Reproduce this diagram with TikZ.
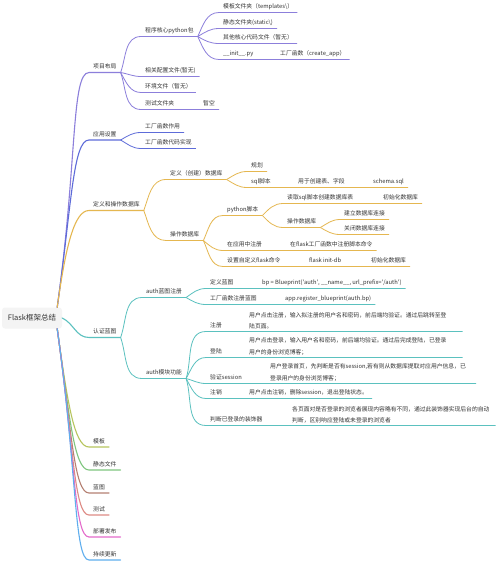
\documentclass[tikz,border=0pt]{standalone}
\usepackage{fontspec}
\setmainfont{Noto Sans CJK SC}
\usetikzlibrary{positioning}

\definecolor{cprj}{HTML}{8C7FDB}
\definecolor{capp}{HTML}{5E6CD9}
\definecolor{cdb}{HTML}{E5B750}
\definecolor{cauth}{HTML}{5BC1BF}
\definecolor{ctpl}{HTML}{B7C55E}
\definecolor{csta}{HTML}{7FC67F}
\definecolor{cbp}{HTML}{B58072}
\definecolor{ctst}{HTML}{DE8B85}
\definecolor{cdep}{HTML}{E46BCB}
\definecolor{cupd}{HTML}{5FAEEE}
\definecolor{txt}{HTML}{333333}

\newcommand{\mmtext}{\fontsize{5.8}{7}\selectfont}
\newcommand{\mmdesc}{\fontsize{5.8}{11.5}\selectfont}
\newcommand{\mmroot}{\fontsize{7.5}{9}\selectfont}

\begin{document}
\begin{tikzpicture}[x=1pt,y=1pt,
topic/.style={anchor=south west,inner xsep=4pt,inner ysep=2pt,text depth=1.5pt,text=txt,font=\mmtext},
desc/.style={anchor=south west,inner xsep=4pt,inner ysep=2pt,align=left,text=txt,font=\mmdesc},
root/.style={fill=gray!9,rounded corners=3pt,minimum width=60pt,minimum height=21pt,text=txt,font=\mmroot},
trunk/.style={line width=1.1pt,line cap=round},
twig/.style={line width=0.8pt}
]

\fill[white] (0,0) rectangle (500,-562);
\useasboundingbox (0,0) rectangle (500,-562);

\node (root) [root] at (32,-318) {Flask框架总结};

% main branches
\node (prj)  [topic] at (89,-72.5)  {项目布局};
\node (app)  [topic] at (89,-140)   {应用设置};
\node (db)   [topic] at (89,-210.5) {定义和操作数据库};
\node (auth) [topic] at (89,-337.5) {认证蓝图};
\node (tpl)  [topic] at (89,-447)   {模板};
\node (sta)  [topic] at (89,-470)   {静态文件};
\node (bp)   [topic] at (89,-493)   {蓝图};
\node (tst)  [topic] at (89,-515)   {测试};
\node (dep)  [topic] at (89,-537)   {部署发布};
\node (upd)  [topic] at (89,-560)   {持续更新};

% project layout
\node (pkg)   [topic] at (141,-36.5)  {程序核心python包};
\node (cfg)   [topic] at (141,-76.5)  {相关配置文件(暂无)};
\node (env)   [topic] at (141,-92.5)  {环境文件（暂无）};
\node (tdir)  [topic] at (141,-109.5) {测试文件夹};
\node (tdirx) [topic] at (199,-109.5) {暂空};
\node (tdr)   [topic] at (219,-12.5)  {模板文件夹（templates\textbackslash）};
\node (sdr)   [topic] at (219,-28.5)  {静态文件夹(static\textbackslash)};
\node (oth)   [topic] at (219,-43.5)  {其他核心代码文件（暂无）};
\node (ini)   [topic] at (219,-59.5)  {\_\_init\_\_.py};
\node (inix)  [topic] at (276,-59.5)  {工厂函数（create\_app）};

% app setup
\node (fac1) [topic] at (141,-132.5) {工厂函数作用};
\node (fac2) [topic] at (141,-148.5) {工厂函数代码实现};

% database
\node (def)   [topic] at (166,-179.5) {定义（创建）数据库};
\node (ops)   [topic] at (166,-240.5) {操作数据库};
\node (plan)  [topic] at (247,-171.5) {规划};
\node (sql)   [topic] at (247,-187.5) {sql脚本};
\node (sqlx)  [topic] at (294,-187.5) {用于创建表、字段};
\node (sqly)  [topic] at (369,-187.5) {schema.sql};
\node (py)    [topic] at (223,-215.5) {python脚本};
\node (reg)   [topic] at (223,-250.5) {在应用中注册};
\node (regx)  [topic] at (286,-250.5) {在flask工厂函数中注册脚本命令};
\node (cmd)   [topic] at (223,-266.5) {设置自定义flask命令};
\node (cmdx)  [topic] at (305,-266.5) {flask init-db};
\node (cmdy)  [topic] at (367,-266.5) {初始化数据库};
\node (read)  [topic] at (283,-203.5) {读取sql脚本创建数据库表};
\node (readx) [topic] at (379,-203.5) {初始化数据库};
\node (opsb)  [topic] at (283,-227.5) {操作数据库};
\node (conn)  [topic] at (340,-219.5) {建立数据库连接};
\node (clos)  [topic] at (340,-234.5) {关闭数据库连接};

% auth blueprint
\node (bpr)  [topic] at (142,-297.5) {auth蓝图注册};
\node (mod)  [topic] at (142,-378.5) {auth模块功能};
\node (bpd)  [topic] at (206,-288.5) {定义蓝图};
\node (bpdx) [topic] at (258,-288.5) {bp = Blueprint(\textquotesingle auth\textquotesingle, \_\_name\_\_, url\_prefix=\textquotesingle/auth\textquotesingle)};
\node (bpf)  [topic] at (206,-304.5) {工厂函数注册蓝图};
\node (bpfx) [topic] at (281,-304.5) {app.register\_blueprint(auth.bp)};
\node (sgn)  [topic] at (206,-331.5) {注册};
\node (sgnx) [desc]  at (245,-331.5) {用户点击注册，输入拟注册的用户名和密码，前后端均验证。通过后跳转至登\\陆页面。};
\node (lgn)  [topic] at (206,-357.5) {登陆};
\node (lgnx) [desc]  at (245,-357.5) {用户点击登录，输入用户名和密码，前后端均验证。通过后完成登陆，已登录\\用户的身份浏览博客；};
\node (ses)  [topic] at (206,-383.5) {验证session};
\node (sesx) [desc]  at (266,-383.5) {用户登录首页，先判断是否有session,若有则从数据库提取对应用户信息，已\\登录用户的身份浏览博客；};
\node (lgo)  [topic] at (206,-398.5) {注销};
\node (lgox) [topic] at (245,-398.5) {用户点击注销，删除session，退出登陆状态。};
\node (dco)  [topic] at (206,-425.5) {判断已登录的装饰器};
\node (dcox) [desc]  at (288,-425.5) {各页面对是否登录的浏览者展现内容略有不同，通过此装饰器实现后台的自动\\判断，区别响应登陆或未登录的浏览者};

% trunks from the root
\draw[trunk,cprj] ([xshift=-5pt]root.north east) to[out=82,in=180,out distance=145pt,in distance=18pt] (prj.south west) -- (prj.south east);
\draw[trunk,capp] ([xshift=-5pt]root.north east) to[out=82,in=180,out distance=104pt,in distance=16pt] (app.south west) -- (app.south east);
\draw[trunk,cdb] ([xshift=-5pt]root.north east) to[out=82,in=180,out distance=60pt,in distance=15pt] (db.south west) -- (db.south east);
\draw[trunk,cauth] (root.east) to[out=-25,in=180] (auth.south west) -- (auth.south east);
\draw[trunk,ctpl] ([xshift=-5pt]root.south east) to[out=-82,in=180,out distance=73pt,in distance=15pt] (tpl.south west) -- (tpl.south east);
\draw[trunk,csta] ([xshift=-5pt]root.south east) to[out=-82,in=180,out distance=88pt,in distance=15pt] (sta.south west) -- (sta.south east);
\draw[trunk,cbp] ([xshift=-5pt]root.south east) to[out=-82,in=180,out distance=102pt,in distance=15pt] (bp.south west) -- (bp.south east);
\draw[trunk,ctst] ([xshift=-5pt]root.south east) to[out=-82,in=180,out distance=116pt,in distance=15pt] (tst.south west) -- (tst.south east);
\draw[trunk,cdep] ([xshift=-5pt]root.south east) to[out=-82,in=180,out distance=129pt,in distance=15pt] (dep.south west) -- (dep.south east);
\draw[trunk,cupd] ([xshift=-5pt]root.south east) to[out=-82,in=180,out distance=143pt,in distance=15pt] (upd.south west) -- (upd.south east);

% project layout
\draw[twig,cprj] (prj.south east) to[out=70,in=180] (pkg.south west) -- (pkg.south east);
\draw[twig,cprj] (prj.south east) to[out=-10,in=180] (cfg.south west) -- (cfg.south east);
\draw[twig,cprj] (prj.south east) to[out=-60,in=180] (env.south west) -- (env.south east);
\draw[twig,cprj] (prj.south east) to[out=-70,in=180] (tdir.south west) -- (tdirx.south east);
\draw[twig,cprj] (pkg.south east) to[out=65,in=180] (tdr.south west) -- (tdr.south east);
\draw[twig,cprj] (pkg.south east) to[out=30,in=180] (sdr.south west) -- (sdr.south east);
\draw[twig,cprj] (pkg.south east) to[out=-30,in=180] (oth.south west) -- (oth.south east);
\draw[twig,cprj] (pkg.south east) to[out=-65,in=180] (ini.south west) -- (inix.south east);

% app setup
\draw[twig,capp] (app.south east) to[out=30,in=180] (fac1.south west) -- (fac1.south east);
\draw[twig,capp] (app.south east) to[out=-30,in=180] (fac2.south west) -- (fac2.south east);

% database
\draw[twig,cdb] (db.south east) to[out=70,in=180] (def.south west) -- (def.south east);
\draw[twig,cdb] (db.south east) to[out=-70,in=180] (ops.south west) -- (ops.south east);
\draw[twig,cdb] (def.south east) to[out=30,in=180] (plan.south west) -- (plan.south east);
\draw[twig,cdb] (def.south east) to[out=-30,in=180] (sql.south west) -- (sqly.south east);
\draw[twig,cdb] (ops.south east) to[out=65,in=180] (py.south west) -- (py.south east);
\draw[twig,cdb] (ops.south east) to[out=-40,in=180] (reg.south west) -- (regx.south east);
\draw[twig,cdb] (ops.south east) to[out=-65,in=180] (cmd.south west) -- (cmdy.south east);
\draw[twig,cdb] (py.south east) to[out=45,in=180] (read.south west) -- (readx.south east);
\draw[twig,cdb] (py.south east) to[out=-45,in=180] (opsb.south west) -- (opsb.south east);
\draw[twig,cdb] (opsb.south east) to[out=30,in=180] (conn.south west) -- (conn.south east);
\draw[twig,cdb] (opsb.south east) to[out=-30,in=180] (clos.south west) -- (clos.south east);

% auth blueprint
\draw[twig,cauth] (auth.south east) to[out=70,in=180] (bpr.south west) -- (bpr.south east);
\draw[twig,cauth] (auth.south east) to[out=-70,in=180] (mod.south west) -- (mod.south east);
\draw[twig,cauth] (bpr.south east) to[out=35,in=180] (bpd.south west) -- (bpdx.south east);
\draw[twig,cauth] (bpr.south east) to[out=-30,in=180] (bpf.south west) -- (bpfx.south east);
\draw[twig,cauth] (mod.south east) to[out=72,in=180] (sgn.south west) -- ([xshift=12pt]sgnx.south east);
\draw[twig,cauth] (mod.south east) to[out=60,in=180] (lgn.south west) -- ([xshift=12pt]lgnx.south east);
\draw[twig,cauth] (mod.south east) to[out=-15,in=180] (ses.south west) -- ([xshift=6pt]sesx.south east);
\draw[twig,cauth] (mod.south east) to[out=-60,in=180] (lgo.south west) -- (lgox.south east);
\draw[twig,cauth] (mod.south east) to[out=-72,in=180] (dco.south west) -- ([xshift=2pt]dcox.south east);

\end{tikzpicture}
\end{document}
